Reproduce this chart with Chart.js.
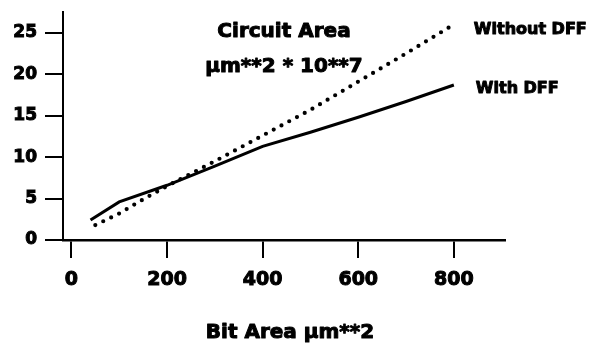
<!DOCTYPE html>
<html>
<head>
<meta charset="utf-8">
<script src="https://cdn.jsdelivr.net/npm/chart.js@4/dist/chart.umd.min.js"></script>
<style>
  html, body { margin: 0; padding: 0; background: #fff; }
  #wrap { width: 592px; height: 348px; }
</style>
</head>
<body>
<div id="wrap"><canvas id="areaChart" width="592" height="348"></canvas></div>
<script>
// values
const bitAreaWithout = [50, 100, 150, 200, 300, 400, 500, 600, 700, 800];
const areaWithoutDff = [1.8, 3.2, 4.9, 6.5, 9.5, 12.6, 15.7, 19.1, 22.5, 26.0];
const bitAreaWith = [40, 100, 200, 300, 400, 500, 600, 700, 800];
const areaWithDff = [2.4, 4.6, 6.6, 8.9, 11.3, 13.0, 14.8, 16.7, 18.7];
const xTicks = [0, 200, 400, 600, 800];
const yTicks = [0, 5, 10, 15, 20, 25];
const titleLines = ['Circuit Area', 'µm**2 * 10**7'];
const xTitle = 'Bit Area µm**2';
const seriesNames = ['Without DFF', 'With DFF'];

const FONT = '"DejaVu Sans", sans-serif';

const toPoints = (xs, ys) => xs.map((x, i) => ({ x: x, y: ys[i] }));

function heavyText(ctx, text, x, y) {
  ctx.strokeText(text, x, y);
  ctx.fillText(text, x, y);
}

// text drawn inside the plot: title block, line labels, axis title
const annotations = {
  id: 'annotations',
  afterDraw(chart) {
    const { ctx, chartArea } = chart;
    ctx.save();
    ctx.fillStyle = '#000';
    ctx.strokeStyle = '#000';
    ctx.lineWidth = 1;
    ctx.lineJoin = 'round';
    ctx.font = 'bold 20px ' + FONT;
    ctx.textAlign = 'center';
    ctx.textBaseline = 'alphabetic';
    const cx = (chartArea.left + chartArea.right) / 2;
    heavyText(ctx, titleLines[0], cx, 37);
    heavyText(ctx, titleLines[1], cx, 72);

    heavyText(ctx, xTitle, cx + 6, 338);

    ctx.font = 'bold 16px ' + FONT;
    ctx.textAlign = 'left';
    const endA = chart.getDatasetMeta(0).data.at(-1);
    const endB = chart.getDatasetMeta(1).data.at(-1);
    heavyText(ctx, seriesNames[0], endA.x + 20, endA.y + 10);
    heavyText(ctx, seriesNames[1], endB.x + 22, endB.y + 8);
    ctx.restore();
  }
};

new Chart(document.getElementById('areaChart'), {
  type: 'line',
  data: {
    datasets: [
      {
        label: seriesNames[0],
        data: toPoints(bitAreaWithout, areaWithoutDff),
        borderColor: '#000',
        borderWidth: 4.2,
        borderDash: [0, 8.8],
        borderCapStyle: 'round',
        pointRadius: 0,
        tension: 0,
        clip: false
      },
      {
        label: seriesNames[1],
        data: toPoints(bitAreaWith, areaWithDff),
        borderColor: '#000',
        borderWidth: 3,
        pointRadius: 0,
        tension: 0,
        clip: false
      }
    ]
  },
  options: {
    responsive: false,
    animation: false,
    layout: { padding: { top: 12, right: 87, left: 0, bottom: 0 } },
    plugins: { legend: { display: false }, tooltip: { enabled: false }, title: { display: false } },
    scales: {
      x: {
        type: 'linear',
        min: -17.6,
        max: 907,
        afterBuildTicks: s => { s.ticks = xTicks.map(v => ({ value: v })); },
        afterFit: s => { s.height = 108; },
        border: { display: true, color: '#000', width: 2.5 },
        grid: { drawOnChartArea: false, drawTicks: true, tickLength: 18, color: '#000', lineWidth: 2 },
        ticks: {
          color: '#000', padding: 11, maxRotation: 0,
          textStrokeColor: '#000', textStrokeWidth: 1,
          font: { family: FONT, size: 19, weight: 'bold' }
        }
      },
      y: {
        min: 0,
        max: 27.5,
        afterBuildTicks: s => { s.ticks = yTicks.map(v => ({ value: v })); },
        afterFit: s => { s.width = 63; s.paddingTop = 0; s.paddingBottom = 0; },
        border: { display: true, color: '#000', width: 2 },
        grid: { drawOnChartArea: false, drawTicks: true, tickLength: 18, color: '#000', lineWidth: 2 },
        ticks: {
          color: '#000', padding: 8,
          textStrokeColor: '#000', textStrokeWidth: 1,
          font: { family: FONT, size: 17, weight: 'bold' }
        }
      }
    }
  },
  plugins: [annotations]
});
</script>
</body>
</html>
